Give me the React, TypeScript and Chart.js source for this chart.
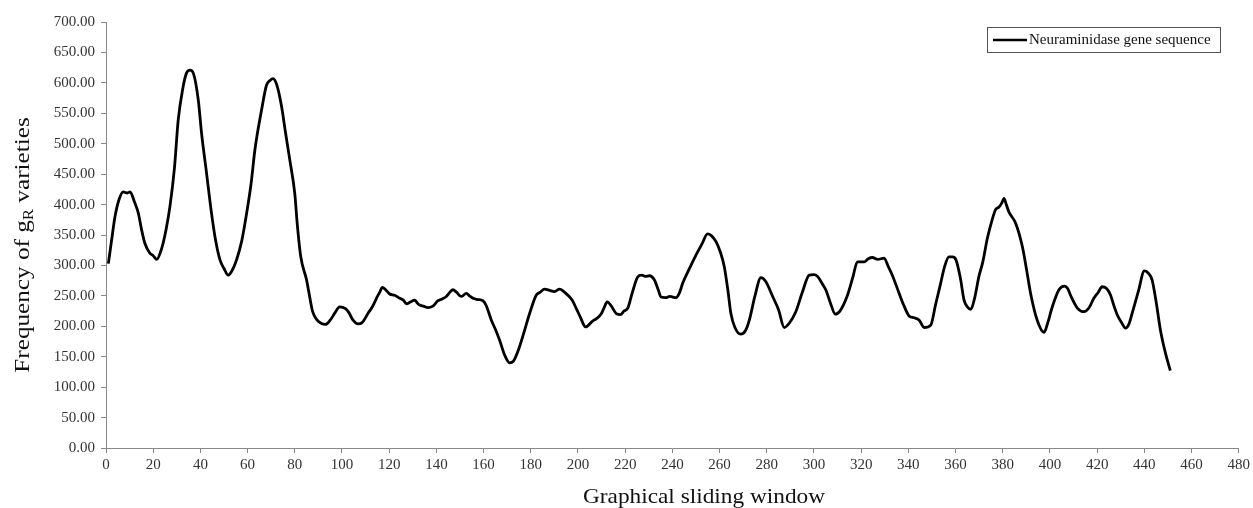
import React, { useEffect, useRef } from "react";
import { Chart, registerables } from "chart.js";

Chart.register(...registerables);

const seriesLabel = "Neuraminidase gene sequence";
const xTitle = "Graphical sliding window";
const yTitleMain = "Frequency of g";
const yTitleSub = "R";
const yTitleEnd = " varieties";

const windowPositions = [
  1, 2.5, 3.8, 5.5, 7.3, 9, 10.2, 12, 13.7, 15, 16.5, 18.6, 20, 21.5, 23.6, 25.5, 27.1, 29, 30.6, 32.5,
  34.1, 35.6, 37, 39.1, 40.5, 42.5, 44.7, 46.5, 48.3, 50, 51.8, 53.5, 55.3, 57.5, 59.6, 61.5, 63.1, 65.9,
  68, 69.5, 70.8, 72.5, 74.4, 76, 77.9, 80, 81, 82.5, 85, 86, 87.5, 89.5, 91.5, 93, 95, 97, 99, 101.5,
  103, 104.7, 106.8, 108.5, 111, 113, 114.6, 116, 117.1, 118.5, 120.2, 122.3, 124.5, 126, 127.3, 129,
  130.8, 132, 132.9, 134.5, 136.4, 138.5, 140.7, 142.5, 144.2, 146, 147, 148.5, 150.5, 152.7, 154, 155.5,
  157.5, 159.7, 161, 163.3, 165, 166.8, 169, 171, 172.5, 175.2, 177.5, 179.5, 182.3, 184, 185.8, 188, 190,
  192.2, 194, 195.7, 197.5, 199.2, 201, 203.2, 206.3, 208, 209.8, 211, 212.4, 214, 216.5, 218, 219.5,
  221.1, 223, 225.3, 227, 228.5, 230.3, 232.4, 234, 235.2, 237, 239, 241.5, 243, 244.4, 247, 250, 252.5,
  254.9, 256.5, 258.5, 260.5, 262, 263.5, 264.8, 266.5, 269, 271, 272.6, 275, 277.5, 279.5, 282.5, 285,
  287.4, 289.5, 292.3, 295, 298, 300, 301.5, 303.5, 305, 307, 309, 311, 314.2, 316.5, 318.4, 321.3, 323,
  324.8, 327, 329.7, 331.5, 333.2, 336.1, 338, 340.3, 342.5, 344.6, 346.7, 349.5, 351.5, 353.7, 355.5,
  357.2, 358.7, 360.1, 362, 363.6, 365, 366.5, 368, 369.9, 371.5, 373.5, 375.5, 377, 378.4, 379.5, 380.5,
  381.5, 382.6, 385.5, 388.3, 390, 391.8, 394.6, 397.5, 399, 401, 403.8, 406.2, 407.5, 408.7, 411.6,
  414.4, 416.5, 418.6, 420.5, 422.1, 424, 425.7, 427, 428.5, 430.5, 432, 433.5, 434.8, 437.5, 440, 441.5,
  443.3, 445, 446.8, 449, 451,
];

const frequencies = [
  303, 345, 380, 408, 421, 419, 421, 405, 386, 360, 336, 320, 316, 310, 328, 360, 397, 460, 539, 590,
  616, 621, 616, 572, 517, 455, 386, 340, 309, 295, 284, 292, 309, 340, 386, 435, 490, 555,
  596, 604, 607, 595, 561, 520, 473, 418, 370, 315, 276, 255, 225, 210, 204, 203, 210, 222, 232, 229,
  222, 210, 204, 206, 221, 233, 246, 256, 264, 260, 253, 251, 246, 243, 237, 240,
  243, 238, 235, 233, 230.5, 233, 242, 245, 249, 257, 260, 256, 249, 254, 250, 246,
  244, 242, 235, 210, 195, 177, 152, 140, 142, 166, 195, 221, 251, 256, 261, 259, 257,
  261, 257, 251, 243, 230, 215, 199, 209, 213, 220, 230, 240, 234, 220, 219, 225,
  230, 255, 281, 284, 282, 283, 276, 260, 248, 247, 249, 247, 255, 271, 293, 317, 335,
  352, 349, 339, 320, 298, 260, 221, 198, 187, 193, 210, 250, 280, 274, 249, 227,
  198, 205, 224, 255, 284, 285, 282, 270, 260, 238, 220, 225, 251, 281, 306, 306, 311,
  313, 310, 312, 298, 284, 254, 235, 217, 214, 210, 198, 202, 235, 271, 300,
  314, 314, 310, 280, 243, 232, 228, 245, 282, 305, 345, 375, 392, 396, 402, 410,
  400, 388, 369, 331, 295, 254, 210, 190, 205, 232, 260, 266, 262, 251, 230,
  224, 230, 246, 256, 265, 262, 251, 235, 219, 205, 197, 204, 221, 258, 291, 288,
  276, 240, 194, 155, 127,
];

const xMin = 0;
const xMax = 480;
const xStep = 20;
const yMin = 0;
const yMax = 700;
const yStep = 50;

const SERIF = "'Liberation Serif', 'Times New Roman', serif";

const annotationPlugin = {
  id: "customText",
  afterDraw(chart: any) {
    const ctx = chart.ctx as CanvasRenderingContext2D;
    ctx.save();
    // x title
    ctx.fillStyle = "#111";
    ctx.font = `21px ${SERIF}`;
    ctx.textAlign = "center";
    ctx.textBaseline = "middle";
    ctx.translate(704, 497);
    ctx.scale(1.11, 1);
    ctx.fillText(xTitle, 0, 0);
    ctx.restore();

    // y title with subscript
    ctx.save();
    ctx.fillStyle = "#111";
    ctx.translate(22, 245);
    ctx.rotate(-Math.PI / 2);
    ctx.scale(1.2, 1);
    const mainFont = `21px ${SERIF}`;
    const subFont = `14px ${SERIF}`;
    ctx.font = mainFont;
    const w1 = ctx.measureText(yTitleMain).width;
    const w3 = ctx.measureText(yTitleEnd).width;
    ctx.font = subFont;
    const w2 = ctx.measureText(yTitleSub).width;
    const total = w1 + w2 + w3;
    let x0 = -total / 2;
    ctx.textAlign = "left";
    ctx.textBaseline = "alphabetic";
    ctx.font = mainFont;
    ctx.fillText(yTitleMain, x0, 7);
    x0 += w1;
    ctx.font = subFont;
    ctx.fillText(yTitleSub, x0, 11);
    x0 += w2;
    ctx.font = mainFont;
    ctx.fillText(yTitleEnd, x0, 7);
    ctx.restore();

    // legend box
    ctx.save();
    ctx.strokeStyle = "#555";
    ctx.lineWidth = 1;
    ctx.strokeRect(987.5, 27.5, 233, 25);
    ctx.strokeStyle = "#000";
    ctx.lineWidth = 2.6;
    ctx.beginPath();
    ctx.moveTo(993, 40);
    ctx.lineTo(1027, 40);
    ctx.stroke();
    ctx.fillStyle = "#111";
    ctx.font = `15px ${SERIF}`;
    ctx.textAlign = "left";
    ctx.textBaseline = "middle";
    ctx.fillText(seriesLabel, 1029, 40.5);
    ctx.restore();
  },
};

export default function App() {
  const canvasRef = useRef<HTMLCanvasElement | null>(null);

  useEffect(() => {
    if (!canvasRef.current) return;
    const points = windowPositions.map((x, i) => ({ x, y: frequencies[i] }));
    const chart = new Chart(canvasRef.current, {
      type: "line",
      data: {
        datasets: [
          {
            label: seriesLabel,
            data: points,
            borderColor: "#000",
            borderWidth: 2.8,
            pointRadius: 0,
            tension: 0.4,
            cubicInterpolationMode: "monotone",
            fill: false,
          },
        ],
      },
      options: {
        animation: false,
        responsive: false,
        maintainAspectRatio: false,
        layout: { padding: { top: 22, right: 13, left: 0, bottom: 0 } },
        plugins: {
          legend: { display: false },
          tooltip: { enabled: false },
        },
        scales: {
          x: {
            type: "linear",
            min: xMin,
            max: xMax,
            ticks: {
              stepSize: xStep,
              color: "#333",
              font: { family: SERIF, size: 15 },
              padding: 3,
              maxRotation: 0,
              autoSkip: false,
            },
            grid: { drawOnChartArea: false, drawTicks: true, tickLength: 5, color: "#888" },
            border: { color: "#888", width: 1 },
            afterFit: (scale: any) => {
              scale.height = 60;
            },
          },
          y: {
            type: "linear",
            min: yMin,
            max: yMax,
            ticks: {
              stepSize: yStep,
              color: "#333",
              font: { family: SERIF, size: 15 },
              padding: 6,
              callback: (v: any) => Number(v).toFixed(2),
            },
            grid: { drawOnChartArea: false, drawTicks: true, tickLength: 5, color: "#888" },
            border: { color: "#888", width: 1 },
            afterFit: (scale: any) => {
              scale.width = 106;
            },
          },
        },
      },
      plugins: [annotationPlugin],
    });
    return () => chart.destroy();
  }, []);

  return (
    <div style={{ position: "fixed", left: 0, top: 0, width: 1253, height: 508, background: "#fff" }}>
      <canvas ref={canvasRef} width={1253} height={508} style={{ width: 1253, height: 508, display: "block" }} />
    </div>
  );
}
